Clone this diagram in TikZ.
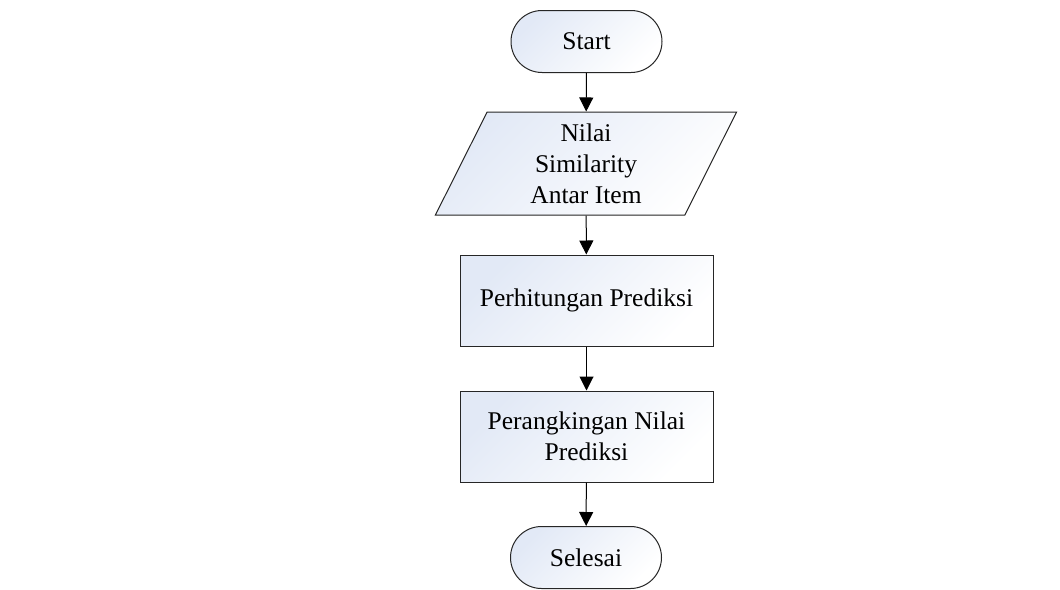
\documentclass[tikz,border=0pt]{standalone}
\usepackage{fontspec}
\setmainfont{Liberation Serif}
\usetikzlibrary{arrows.meta,shapes.geometric,shapes.misc}
\definecolor{shadeblue}{RGB}{226,233,246}
\tikzset{
  box/.style={draw=black!85, line width=1pt, top color=shadeblue, bottom color=white, shading angle=45,
    font=\fontsize{25.5}{31}\selectfont, align=center, inner sep=0pt},
  proc/.style={box, rectangle, minimum width=253, minimum height=91},
  term/.style={box, rounded rectangle, minimum width=151, minimum height=62},
  io/.style={box, trapezium, trapezium left angle=70, trapezium right angle=110,
    trapezium stretches=true, minimum width=302, minimum height=103},
  flow/.style={line width=1pt, -{Triangle[width=14pt,length=14pt]}}
}
\begin{document}
\begin{tikzpicture}[x=1pt,y=1pt]
  \useasboundingbox (0,0) rectangle (1060,-589);
  \node[term] (start) at (586.5,-41.5) {Start};
  \node[io] (input) at (586,-163.5) {Nilai\\Similarity\\Antar Item};
  \node[proc] (hitung) at (586.5,-300.5) {Perhitungan Prediksi};
  \node[proc] (rank) at (586.5,-436.5) {Perangkingan Nilai\\Prediksi};
  \node[term] (selesai) at (586,-557.5) {Selesai};
  \draw[flow] (start) -- (input);
  \draw[flow] (input) -- (hitung);
  \draw[flow] (hitung) -- (rank);
  \draw[flow] (rank) -- (selesai);
\end{tikzpicture}
\end{document}
